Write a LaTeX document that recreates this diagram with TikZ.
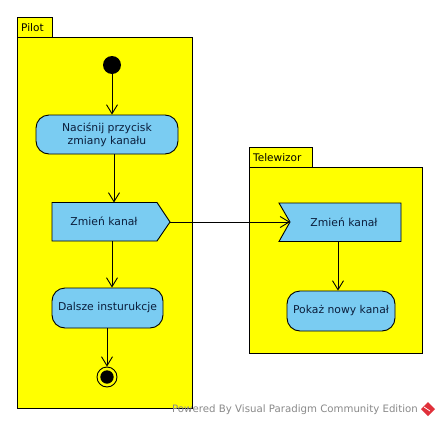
\documentclass[tikz,border=0pt]{standalone}
\usepackage{fontspec}
\setmainfont{DejaVu Sans}
\usetikzlibrary{arrows.meta}
\definecolor{frameyellow}{HTML}{FFFF00}
\definecolor{actblue}{HTML}{7ACCF2}
\definecolor{txtnavy}{HTML}{0B1E3C}
\definecolor{wmgrey}{HTML}{8A8A8A}
\definecolor{vpred}{HTML}{E0303A}
\tikzset{
  partframe/.style={draw=black, fill=frameyellow, line width=0.9pt},
  tablbl/.style={anchor=west, inner sep=0pt, font=\fontsize{10.5}{12}\selectfont},
  actbox/.style={draw=black, fill=actblue, rounded corners=13pt, line width=0.9pt, text=txtnavy, font=\fontsize{10.8}{13}\selectfont, align=center, inner sep=0pt},
  sigtext/.style={text=txtnavy, font=\fontsize{10.8}{13}\selectfont, inner sep=0pt},
  sigshape/.style={draw=black, fill=actblue, line width=0.9pt},
  flow/.style={draw=black, line width=0.9pt, -{Straight Barb[length=9pt,width=11pt,line width=0.9pt]}},
}
\begin{document}
\begin{tikzpicture}[x=1pt,y=-1pt]
\useasboundingbox (0,0) rectangle (440,426);
\fill[white] (0,0) rectangle (440,426);
% Pilot partition
\draw[partframe] (17,37) rectangle (192,408);
\draw[partframe] (17,17) rectangle (52,37);
\node[tablbl] (pilotlbl) at (21,27.5) {Pilot};
% Telewizor partition
\draw[partframe] (249,167) rectangle (422,353);
\draw[partframe] (249,147) rectangle (312,167);
\node[tablbl] (tvlbl) at (253,157.5) {Telewizor};
% Pilot nodes
\node[circle, fill=black, minimum size=18pt, inner sep=0pt] (init) at (112,65) {};
\node[actbox, minimum width=142pt, minimum height=39pt] (press) at (107,134.5) {Naciśnij przycisk\\zmiany kanału};
\draw[sigshape] (52,202.5) -- (157,202.5) -- (170,222) -- (157,241) -- (52,241) -- cycle;
\node[sigtext, minimum width=105pt, minimum height=38pt] (send) at (104,221.5) {Zmień kanał};
\coordinate (sendtip) at (170,222);
\node[actbox, minimum width=111pt, minimum height=40pt] (further) at (107.5,308) {Dalsze insturukcje};
\node[circle, draw=black, fill=frameyellow, line width=0.9pt, minimum size=20pt, inner sep=0pt] (final) at (107,377) {};
\fill[black] (final.center) circle (6.7pt);
% Telewizor nodes
\draw[sigshape] (279,203) -- (401,203) -- (401,241.5) -- (279,241.5) -- (290,222) -- cycle;
\node[sigtext, minimum width=111pt, minimum height=39pt] (accept) at (344,222.5) {Zmień kanał};
\coordinate (accnotch) at (290,222);
\node[actbox, minimum width=108pt, minimum height=40pt] (show) at (341,311) {Pokaż nowy kanał};
% flows
\draw[flow] (init.south) -- (press.north -| init.south);
\draw[flow] (press.south -| 114,0) -- (114,202.5);
\draw[flow] (112,241) -- (further.north -| 112,0);
\draw[flow] (further.south -| final.north) -- (final.north);
\draw[flow] (sendtip) -- (accnotch);
\draw[flow] (338,241.5) -- (show.north -| 338,0);
% watermark
\node[anchor=west, inner sep=0pt, text=wmgrey, font=\fontsize{10.2}{12}\selectfont] (wm) at (172,409.5) {Powered By\,\,Visual Paradigm Community Edition};
\fill[vpred] (428,402) -- (435,409) -- (428,416) -- (421,409) -- cycle;
\draw[white, line width=0.8pt] (424,407) -- (430,411);
\end{tikzpicture}
\end{document}
